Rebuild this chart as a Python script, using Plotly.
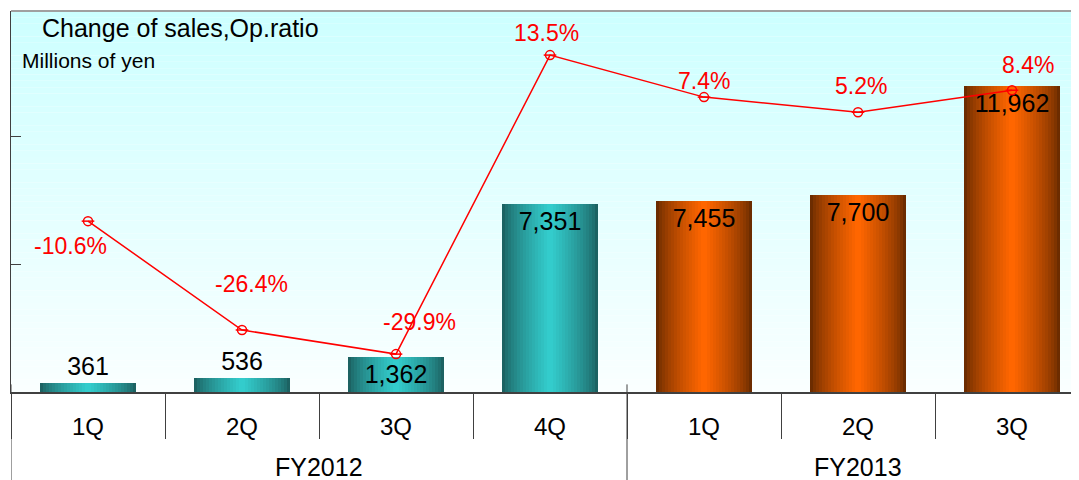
import plotly.graph_objects as go

# ---------------- data ----------------
fiscal_years = ["FY2012", "FY2012", "FY2012", "FY2012", "FY2013", "FY2013", "FY2013"]
quarters = ["1Q", "2Q", "3Q", "4Q", "1Q", "2Q", "3Q"]
sales = [361, 536, 1362, 7351, 7455, 7700, 11962]          # millions of yen
op_ratio = [-10.6, -26.4, -29.9, 13.5, 7.4, 5.2, 8.4]     # %

# ---------------- styles ----------------
FONT = "Arial, 'Liberation Sans', sans-serif"
BAR_W = 0.623
DARK = {"FY2012": (28, 98, 98), "FY2013": (108, 44, 0)}
BRIGHT = {"FY2012": (51, 204, 204), "FY2013": (255, 102, 0)}
label_pos = ["outside", "outside", "inside", "inside", "inside", "inside", "inside"]
pct_dx = [-18, 9, 23, -4, 0, 3, 16]
pct_dy = [-25, 46, 32, 22, 16, 26, 25]
AXIS_COL = "#404040"

x_keys = [f"{a} {b}" for a, b in zip(fiscal_years, quarters)]


def lerp(c1, c2, t):
    return "rgb({},{},{})".format(*[round(a + (b - a) * t) for a, b in zip(c1, c2)])


fig = go.Figure()

# cylinder-like bars: overlaid layers narrowing towards the bright centre
N = 16
for k in range(N):
    s = k / (N - 1)
    t = s ** 0.75
    fig.add_trace(go.Bar(
        x=x_keys, y=sales,
        width=BAR_W * (1 - k / N),
        marker=dict(color=[lerp(DARK[f], BRIGHT[f], t) for f in fiscal_years], line=dict(width=0)),
        hoverinfo="skip", showlegend=False,
    ))

# value labels (transparent carrier bar on top)
fig.add_trace(go.Bar(
    x=x_keys, y=sales, width=BAR_W,
    marker=dict(color="rgba(0,0,0,0)", line=dict(width=0)),
    text=[f"{v:,}" for v in sales],
    textposition=label_pos,
    textfont=dict(family=FONT, size=25, color="black"),
    insidetextanchor="end",
    constraintext="none",
    cliponaxis=False,
    showlegend=False,
))

# operating ratio line
fig.add_trace(go.Scatter(
    x=x_keys, y=op_ratio, xaxis="x2", yaxis="y2",
    mode="lines+markers",
    line=dict(color="#FF0000", width=1.5),
    marker=dict(symbol="circle-open", size=9, color="#FF0000", line=dict(width=1.5)),
    showlegend=False, cliponaxis=False,
))
fig.add_trace(go.Scatter(
    x=x_keys, y=op_ratio, xaxis="x2", yaxis="y2",
    mode="markers",
    marker=dict(symbol="line-ew-open", size=9, color="#FF0000", line=dict(width=1.5, color="#FF0000")),
    showlegend=False, cliponaxis=False,
))

annotations = []
for xk, v, dx, dy in zip(x_keys, op_ratio, pct_dx, pct_dy):
    annotations.append(dict(
        x=xk, y=v, xref="x2", yref="y2", text=f"{v:.1f}%", showarrow=False,
        xshift=dx, yshift=dy, font=dict(family=FONT, size=23, color="#FF0000"),
    ))

# fiscal-year group labels and group dividers, derived from the data
groups = []
for i, f in enumerate(fiscal_years):
    if not groups or groups[-1][0] != f:
        groups.append([f, i, i])
    else:
        groups[-1][2] = i

shapes = []
# background vertical gradient
NB = 60
top, bottom = (204, 255, 255), (250, 255, 255)
for i in range(NB):
    y0 = 1 - (i + 1) / NB
    y1 = 1 - i / NB
    shapes.append(dict(type="rect", xref="paper", yref="paper", x0=0, x1=1, y0=y0, y1=y1,
                       fillcolor=lerp(top, bottom, (i + 0.5) / NB), line=dict(width=0), layer="below"))
shapes.append(dict(type="line", xref="paper", yref="paper", x0=0, x1=1, y0=1, y1=1,
                   line=dict(color="#A0A0A0", width=2), layer="below"))

BOTTOM_PAPER = -88 / 381
for name, i0, i1 in groups:
    annotations.append(dict(x=(i0 + i1) / 2, y=0, xref="x", yref="paper", yanchor="middle",
                            yshift=-75, text=name, showarrow=False,
                            font=dict(family=FONT, size=25, color="black")))
    shapes.append(dict(type="line", xref="x", yref="paper", x0=i0 - 0.5, x1=i0 - 0.5,
                       y0=0.02, y1=BOTTOM_PAPER, line=dict(color=AXIS_COL, width=1), layer="above"))

annotations.append(dict(x=0, y=1, xref="paper", yref="paper", xanchor="left", yanchor="middle",
                        xshift=29, yshift=-17, text="Change of sales,Op.ratio", showarrow=False,
                        font=dict(family=FONT, size=25, color="black")))
annotations.append(dict(x=0, y=1, xref="paper", yref="paper", xanchor="left", yanchor="middle",
                        xshift=9, yshift=-49, text="Millions of yen", showarrow=False,
                        font=dict(family=FONT, size=21, color="black")))

XR = [-0.5, 6.435]
fig.update_layout(
    width=1071, height=472,
    margin=dict(l=3, r=0, t=3, b=88),
    paper_bgcolor="white", plot_bgcolor="rgba(0,0,0,0)",
    barmode="overlay", bargap=0,
    font=dict(family=FONT, color="black"),
    showlegend=False,
    shapes=shapes, annotations=annotations,
    xaxis=dict(type="category", range=XR, categoryorder="array", categoryarray=x_keys,
               tickmode="array", tickvals=x_keys, ticktext=quarters,
               showline=True, linecolor=AXIS_COL, linewidth=2,
               ticks="outside", ticklen=12, tickcolor="rgba(0,0,0,0)", showgrid=False,
               tickfont=dict(family=FONT, size=24, color="black")),
    yaxis=dict(range=[0, 14883], showline=True, linecolor=AXIS_COL, linewidth=1,
               ticks="inside", ticklen=10, tickcolor=AXIS_COL, tick0=0, dtick=5000,
               showticklabels=False, showgrid=False, zeroline=False),
    xaxis2=dict(type="category", overlaying="x", anchor="y", side="bottom", range=XR,
                categoryorder="array", categoryarray=x_keys,
                showline=False, showgrid=False, showticklabels=False,
                ticks="outside", tickson="boundaries", ticklen=46, tickcolor=AXIS_COL),
    yaxis2=dict(overlaying="y", anchor="x2", side="right", range=[-35.4, 19.9], visible=False),
)

fig.write_html("out.html")
